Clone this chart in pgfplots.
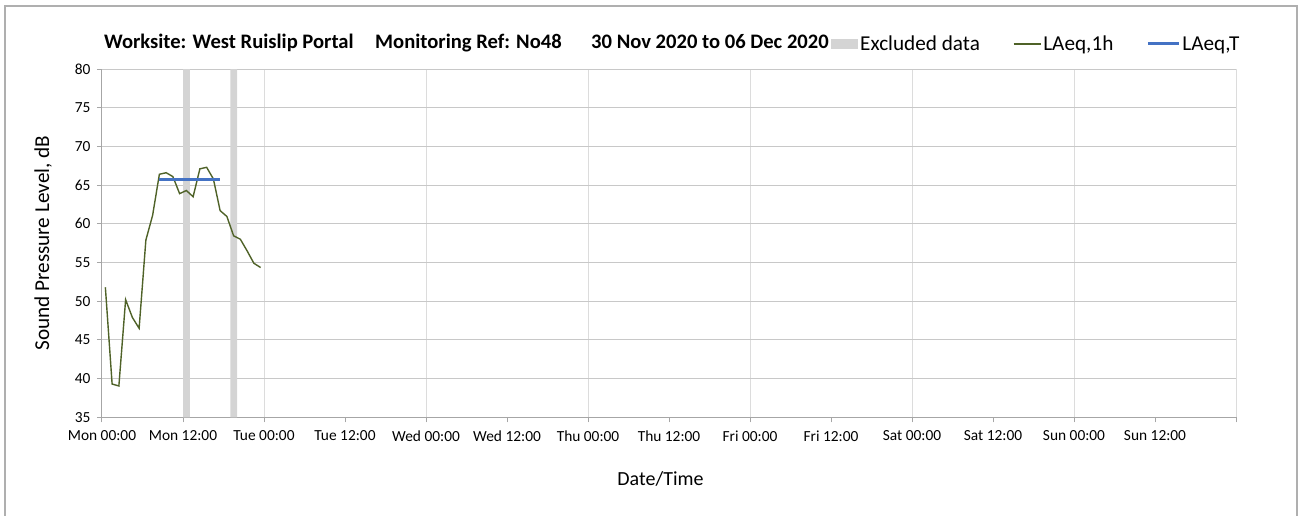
\documentclass[border=0pt]{standalone}
\usepackage{fontspec}
\setmainfont{Carlito}
\usepackage{pgfplots}
\pgfplotsset{compat=1.18}
\definecolor{lineGreen}{RGB}{79,98,40}
\definecolor{lineBlue}{RGB}{68,114,196}
\definecolor{bandGray}{RGB}{212,212,212}
\definecolor{gridH}{RGB}{200,200,200}
\definecolor{gridV}{RGB}{220,220,220}
\definecolor{axisGray}{RGB}{166,166,166}
\definecolor{frameGray}{RGB}{175,175,175}
\begin{document}
\begin{tikzpicture}[x=1pt,y=1pt]
\useasboundingbox (0,0) rectangle (1304,515);
\draw[frameGray, line width=1.2pt] (5,-3) -- (5,509) -- (1297,509) -- (1297,-3);
\begin{axis}[
  at={(102pt,97.7pt)}, anchor=south west,
  scale only axis, width=1134pt, height=348.3pt,
  xmin=0, xmax=168, ymin=35, ymax=80,
  axis lines*=left,
  axis line style={axisGray, line width=1pt},
  xtick={0,12,...,168},
  xticklabels={Mon 00:00,Mon 12:00,Tue 00:00,Tue 12:00,Wed 00:00,Wed 12:00,Thu 00:00,Thu 12:00,Fri 00:00,Fri 12:00,Sat 00:00,Sat 12:00,Sun 00:00,Sun 12:00,{}},
  minor xtick={24,48,...,168},
  xminorgrids=true, xmajorgrids=false,
  minor grid style={gridV, line width=1pt},
  minor tick length=0pt,
  ytick={35,40,...,80},
  ymajorgrids=true,
  major grid style={gridH, line width=1pt},
  tick align=outside, major tick length=5pt,
  tick style={axisGray, line width=1pt},
  /pgf/number format/assume math mode=true,
  xticklabel style={font=\fontsize{15.4}{17}\selectfont, yshift=-5pt},
  yticklabel style={font=\fontsize{15.4}{17}\selectfont, xshift=-3pt},
  xlabel={Date/Time}, ylabel={Sound Pressure Level, dB},
  every axis x label/.style={at={(axis description cs:0.4925,-0.177)}, anchor=center, font=\fontsize{20}{24}\selectfont},
  every axis y label/.style={at={(axis description cs:-0.052,0.5)}, rotate=90, anchor=center, font=\fontsize{21.2}{25}\selectfont},
  clip=false,
  legend columns=3,
  legend style={draw=none, fill=none, at={(828pt-102pt,417.3pt-44pt)}, anchor=west, font=\fontsize{21.2}{24}\selectfont,
    /tikz/every even column/.append style={column sep=31pt}, nodes={inner sep=2pt}},
  legend cell align=left,
]
\addplot[fill=bandGray, draw=none, area legend,
  legend image code/.code={\fill[bandGray] (0pt,-5pt) rectangle (27pt,5pt);}]
  coordinates {(12,35) (12,80) (13,80) (13,35)} \closedcycle;
\addlegendentry{Excluded data}
\addplot[fill=bandGray, draw=none, forget plot]
  coordinates {(19,35) (19,80) (20,80) (20,35)} \closedcycle;
\addplot[lineGreen, line width=1.4pt, mark=none,
  legend image code/.code={\draw[lineGreen, line width=1.4pt] (0pt,0pt) -- (27pt,0pt);}]
  coordinates {
  (0.5,51.8) (1.5,39.3) (2.5,39.05) (3.5,50.2) (4.5,47.9) (5.5,46.5)
  (6.5,57.9) (7.5,61.1) (8.5,66.4) (9.5,66.6) (10.5,66.1) (11.5,63.9)
  (12.5,64.3) (13.5,63.5) (14.5,67.1) (15.5,67.3) (16.5,65.8) (17.5,61.7)
  (18.5,60.95) (19.5,58.45) (20.5,58.0) (21.5,56.5) (22.5,54.9) (23.5,54.35)
  };
\addlegendentry{LAeq,1h}
\addplot[lineBlue, line width=3pt, mark=none,
  legend image code/.code={\draw[lineBlue, line width=3pt] (0pt,0pt) -- (31pt,0pt);}]
  coordinates {(8.5,65.75) (17.5,65.75)};
\addlegendentry{LAeq,T}
\end{axis}
\node[anchor=base west, inner sep=0pt, font=\bfseries\fontsize{20.6}{24}\selectfont] at (104,466) {Worksite: West Ruislip Portal};
\node[anchor=base west, inner sep=0pt, font=\bfseries\fontsize{20.6}{24}\selectfont] at (375,466) {Monitoring Ref: No48};
\node[anchor=base west, inner sep=0pt, font=\bfseries\fontsize{20.6}{24}\selectfont] at (591,466) {30 Nov 2020 to 06 Dec 2020};
\end{tikzpicture}
\end{document}
